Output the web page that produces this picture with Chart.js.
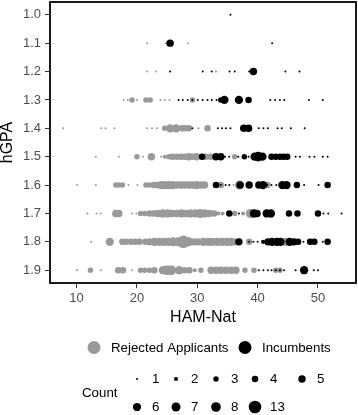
<!DOCTYPE html>
<html><head><meta charset="utf-8">
<script src="https://cdn.jsdelivr.net/npm/chart.js@4/dist/chart.umd.min.js"></script>
<style>html,body{margin:0;padding:0;background:#fff}#wrap{width:358px;height:415px}</style>
</head><body><div id="wrap"><canvas id="c" width="358" height="415"></canvas></div>
<script>
// ---- data ----
const xTicks = [10, 20, 30, 40, 50];
const yTicks = [1.0, 1.1, 1.2, 1.3, 1.4, 1.5, 1.6, 1.7, 1.8, 1.9];
const seriesNames = ['Rejected Applicants', 'Incumbents'];
const countLegendRow1 = [1, 2, 3, 4, 5];
const countLegendRow2 = [6, 7, 8, 13];

// [HAM-Nat, hGPA, count]
const rejected = [
 [21.7,1.1,1],[24.8,1.1,1],[28.5,1.1,1],
 [21.7,1.2,1],[23.2,1.2,1],[33.1,1.2,1],
 [17.8,1.3,1],[18.5,1.3,1],[19.2,1.3,3],[20.0,1.3,1],[21.5,1.3,3],[22.2,1.3,3],[23.9,1.3,1],[24.6,1.3,1],[25.4,1.3,1],[29.2,1.3,3],
 [7.8,1.4,1],[14.1,1.4,1],[14.8,1.4,1],[16.3,1.4,1],[21.7,1.4,1],[22.5,1.4,1],[23.3,1.4,1],[24.6,1.4,3],[25.5,1.4,6],[26.5,1.4,6],[27.5,1.4,4],[28.0,1.4,4],[28.6,1.4,4],[30.2,1.4,1],[31.7,1.4,4],
 [13.2,1.5,1],[17.0,1.5,1],[20.0,1.5,3],[21.0,1.5,1],[22.4,1.5,5],[24.0,1.5,1],[24.6,1.5,2],[25.3,1.5,3],[25.9,1.5,4],[26.6,1.5,4],[27.3,1.5,4],[27.9,1.5,4],[28.6,1.5,5],[29.2,1.5,4],[29.9,1.5,5],[31.4,1.5,4],[32.2,1.5,4],[36.2,1.5,3],
 [10.1,1.6,1],[13.2,1.6,1],[16.5,1.6,3],[17.0,1.6,3],[17.6,1.6,3],[18.6,1.6,1],[20.1,1.6,1],[21.5,1.6,3],[22.1,1.6,3],[22.8,1.6,4],[23.3,1.6,4],[24.0,1.6,6],[24.6,1.6,6],[25.3,1.6,6],[25.9,1.6,6],[26.6,1.6,5],[27.3,1.6,5],[27.9,1.6,5],[28.6,1.6,5],[29.2,1.6,5],[29.9,1.6,6],[30.6,1.6,5],[31.2,1.6,5],[33.9,1.6,4],[36.0,1.6,1],[37.0,1.6,7],[41.6,1.6,4],
 [11.8,1.7,1],[13.3,1.7,1],[14.0,1.7,1],[16.5,1.7,5],[17.0,1.7,5],[19.2,1.7,1],[19.9,1.7,1],[20.6,1.7,3],[21.3,1.7,3],[22.1,1.7,4],[22.8,1.7,4],[23.5,1.7,5],[24.3,1.7,6],[25.1,1.7,6],[25.8,1.7,5],[26.6,1.7,5],[27.4,1.7,6],[28.1,1.7,5],[28.9,1.7,6],[29.7,1.7,6],[30.5,1.7,7],[31.2,1.7,6],[32.0,1.7,5],[32.8,1.7,4],[33.5,1.7,2],[34.2,1.7,2],[36.2,1.7,3],[37.6,1.7,2],[38.8,1.7,7],
 [12.4,1.8,1],[15.5,1.8,6],[17.6,1.8,4],[18.2,1.8,4],[19.0,1.8,4],[19.7,1.8,4],[20.4,1.8,4],[21.4,1.8,4],[22.1,1.8,5],[22.9,1.8,6],[23.7,1.8,6],[24.5,1.8,6],[25.2,1.8,6],[26.0,1.8,7],[26.8,1.8,7],[27.7,1.8,13],[28.6,1.8,7],[29.4,1.8,5],[30.1,1.8,5],[31.0,1.8,6],[31.8,1.8,6],[32.5,1.8,6],[33.3,1.8,6],[34.1,1.8,6],[34.9,1.8,6],[35.6,1.8,6],[36.2,1.8,5],[38.6,1.8,4],[44.6,1.8,6],
 [10.1,1.9,1],[12.3,1.9,3],[14.0,1.9,1],[16.9,1.9,4],[17.7,1.9,4],[19.2,1.9,1],[20.6,1.9,3],[21.3,1.9,3],[22.1,1.9,3],[22.9,1.9,4],[24.3,1.9,6],[25.0,1.9,8],[25.7,1.9,8],[27.0,1.9,6],[27.9,1.9,4],[28.7,1.9,4],[29.6,1.9,2],[30.6,1.9,3],[32.3,1.9,5],[33.1,1.9,5],[33.9,1.9,5],[34.75,1.9,5],[35.6,1.9,5],[36.4,1.9,5],[37.9,1.9,3],[39.4,1.9,3],[43.0,1.9,3],[43.7,1.9,3]
];

const incumbents = [
 [35.5,1.0,1],
 [25.5,1.1,5],[42.4,1.1,1],
 [25.5,1.2,1],[30.9,1.2,1],[32.4,1.2,1],[35.35,1.2,1],[36.2,1.2,1],[38.6,1.2,1],[39.3,1.2,5],[44.6,1.2,1],[46.95,1.2,1],
 [26.9,1.3,1],[27.6,1.3,1],[28.4,1.3,1],[29.2,1.3,1],[30.1,1.3,1],[30.9,1.3,1],[31.7,1.3,1],[32.4,1.3,1],[33.2,1.3,1],[33.9,1.3,3],[34.5,1.3,6],[36.9,1.3,6],[38.5,1.3,4],[42.1,1.3,1],[42.9,1.3,1],[43.7,1.3,1],[44.4,1.3,1],[48.5,1.3,1],[50.8,1.3,1],
 [29.2,1.4,1],[33.4,1.4,1],[34.1,1.4,1],[34.75,1.4,1],[35.5,1.4,1],[37.7,1.4,5],[38.5,1.4,5],[40.2,1.4,1],[40.96,1.4,1],[41.7,1.4,1],[43.3,1.4,1],[44.0,1.4,1],[45.5,1.4,1],[47.8,1.4,1],
 [30.8,1.5,4],[33.1,1.5,5],[33.9,1.5,5],[34.6,1.5,1],[35.3,1.5,1],[36.8,1.5,1],[37.8,1.5,3],[38.5,1.5,1],[39.5,1.5,6],[40.1,1.5,8],[40.8,1.5,6],[42.3,1.5,4],[43.0,1.5,4],[43.7,1.5,4],[44.3,1.5,4],[44.9,1.5,4],[46.3,1.5,1],[47.0,1.5,1],[48.6,1.5,1],[49.4,1.5,1],[50.8,1.5,1],[51.6,1.5,1],
 [33.1,1.6,4],[33.9,1.6,1],[34.7,1.6,1],[35.3,1.6,1],[37.1,1.6,5],[38.6,1.6,5],[40.2,1.6,5],[40.9,1.6,6],[41.6,1.6,1],[42.3,1.6,1],[43.1,1.6,1],[44.1,1.6,6],[44.8,1.6,6],[46.5,1.6,4],[47.7,1.6,1],[50.1,1.6,1],[51.6,1.6,4],
 [35.3,1.7,4],[36.9,1.7,1],[39.4,1.7,6],[39.9,1.7,5],[41.5,1.7,6],[42.2,1.7,6],[45.2,1.7,4],[46.6,1.7,4],[50.0,1.7,4],[50.9,1.7,1],[51.7,1.7,1],[53.9,1.7,1],
 [36.9,1.8,5],[38.6,1.8,1],[39.3,1.8,1],[40.0,1.8,1],[40.9,1.8,2],[41.7,1.8,5],[42.4,1.8,6],[43.2,1.8,6],[43.8,1.8,6],[45.3,1.8,6],[46.0,1.8,5],[46.7,1.8,4],[47.6,1.8,1],[48.7,1.8,4],[49.4,1.8,4],[50.8,1.8,1],[51.6,1.8,4],
 [40.2,1.9,1],[40.96,1.9,1],[41.7,1.9,1],[42.3,1.9,1],[43.0,1.9,1],[43.7,1.9,1],[44.4,1.9,1],[46.3,1.9,1],[47.7,1.9,6],[49.3,1.9,1],[50.0,1.9,1]
];

// ---- styling ----
const FONT = '"Liberation Sans", Arial, Helvetica, sans-serif';
const GREY = '#999999';
const BLACK = '#000000';
const sizeOf = n => Math.sqrt(1 + 3.2 * (n - 1)); // area-linear size scale

const toPoints = arr => arr.map(([x, y, n]) => ({ x: x, y: y, r: sizeOf(n) }));

const frame = {
  id: 'frame',
  afterDatasetsDraw(chart) {
    const { ctx, chartArea: a } = chart;
    ctx.save();
    ctx.strokeStyle = '#000';
    ctx.lineWidth = 1.8;
    ctx.strokeRect(a.left, a.top, a.right - a.left, a.bottom - a.top);
    ctx.restore();
  }
};

const legendPlugin = {
  id: 'customLegend',
  afterDraw(chart) {
    const ctx = chart.ctx;
    ctx.save();
    ctx.font = '13.3px ' + FONT;
    ctx.textBaseline = 'middle';
    ctx.textAlign = 'left';
    const keyR = 6.5;
    const keys = [{ x: 94, c: GREY, t: seriesNames[0] }, { x: 245, c: BLACK, t: seriesNames[1] }];
    keys.forEach(k => {
      ctx.fillStyle = k.c;
      ctx.beginPath(); ctx.arc(k.x, 347.5, keyR, 0, Math.PI * 2); ctx.fill();
      ctx.fillStyle = '#000';
      ctx.fillText(k.t, k.x + 17, 348);
    });
    ctx.fillText('Count', 82, 393);
    const cols1 = [137, 176, 216, 255, 302];
    const cols2 = [137, 176, 216, 255];
    const drawRow = (vals, cols, y) => vals.forEach((n, i) => {
      ctx.fillStyle = '#000';
      ctx.beginPath(); ctx.arc(cols[i], y, sizeOf(n), 0, Math.PI * 2); ctx.fill();
      ctx.fillText(String(n), cols[i] + 15, y + 0.5);
    });
    drawRow(countLegendRow1, cols1, 379);
    drawRow(countLegendRow2, cols2, 407);
    ctx.restore();
  }
};

const noPad = s => { s.paddingTop = 0; s.paddingBottom = 0; s.paddingLeft = 0; s.paddingRight = 0; };

new Chart(document.getElementById('c'), {
  type: 'bubble',
  data: {
    datasets: [
      { label: seriesNames[1], data: toPoints(incumbents), backgroundColor: BLACK, borderWidth: 0, hoverRadius: 0, order: 0 },
      { label: seriesNames[0], data: toPoints(rejected), backgroundColor: GREY, borderWidth: 0, hoverRadius: 0, order: 1 }
    ]
  },
  options: {
    responsive: false,
    devicePixelRatio: 1,
    animation: false,
    events: [],
    layout: { autoPadding: false, padding: { left: 0, top: 2, right: 2, bottom: 84 } },
    plugins: { legend: { display: false }, tooltip: { enabled: false } },
    scales: {
      x: {
        type: 'linear', min: 5.6, max: 56.3,
        afterBuildTicks: s => { s.ticks = xTicks.map(v => ({ value: v })); },
        afterFit: s => { s.height = 48; noPad(s); },
        grid: { drawOnChartArea: false, drawTicks: true, tickLength: 5, color: '#333', lineWidth: 1 },
        border: { display: false },
        ticks: { color: '#4d4d4d', font: { family: FONT, size: 13 }, padding: 3, maxRotation: 0, autoSkip: false },
        title: { display: true, text: 'HAM-Nat', color: '#000', font: { family: FONT, size: 16, lineHeight: 1 }, padding: { top: 0, bottom: 5 } }
      },
      y: {
        type: 'linear', reverse: true, min: 0.955, max: 1.945,
        afterBuildTicks: s => { s.ticks = yTicks.map(v => ({ value: v })); },
        afterFit: s => { s.width = 50; noPad(s); },
        grid: { drawOnChartArea: false, drawTicks: true, tickLength: 5, color: '#333', lineWidth: 1 },
        border: { display: false },
        ticks: { color: '#4d4d4d', font: { family: FONT, size: 13 }, padding: 4, autoSkip: false, callback: v => Number(v).toFixed(1) },
        title: { display: true, text: 'hGPA', color: '#000', font: { family: FONT, size: 16, lineHeight: 1 }, padding: { top: 0, bottom: 0 } }
      }
    }
  },
  plugins: [frame, legendPlugin]
});
</script>
</body></html>
